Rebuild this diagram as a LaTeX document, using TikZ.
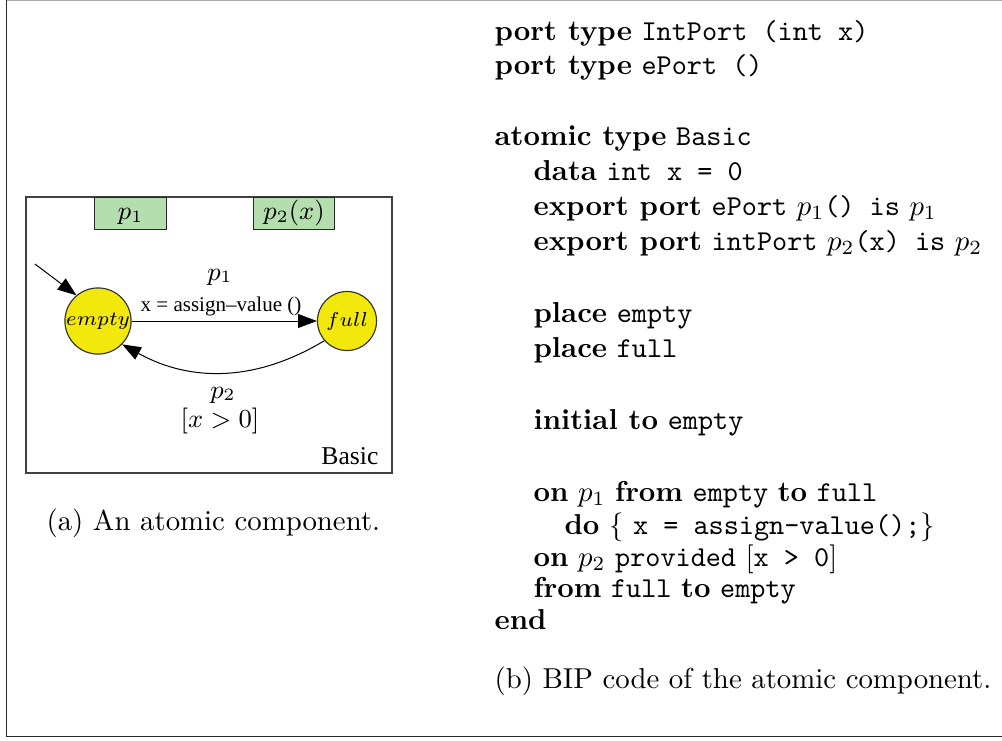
\documentclass[tikz,border=0pt]{standalone}
\usepackage{fontspec}
\newfontfamily\timesf{Liberation Serif}
\usetikzlibrary{arrows.meta}

\definecolor{portgreen}{RGB}{181,222,174}
\definecolor{placeyellow}{RGB}{242,232,12}
\definecolor{framegray}{RGB}{170,170,170}
\definecolor{framedark}{RGB}{40,40,40}

\tikzset{
  frameline/.style={line width=0.6pt, draw=framedark},
  compbox/.style={draw=black!75, line width=0.4pt},
  portbox/.style={draw=black!85, fill=portgreen, line width=0.4pt, font=\small,
                  inner sep=0pt, text height=6.8pt, text depth=2.4pt,
                  minimum height=32*0.3472pt, anchor=north west},
  place/.style={circle, draw=black!80, fill=placeyellow, line width=0.4pt,
                minimum size=20.5pt, inner sep=0pt, font=\scriptsize},
  trans/.style={draw=black, line width=0.35pt, -{Triangle[length=6.5pt,width=4.8pt]}},
  codeline/.style={anchor=base west, inner sep=0pt},
  lbl/.style={inner sep=0pt}
}

\begin{document}
\begin{tikzpicture}[x=0.3472pt, y=-0.3472pt]
\useasboundingbox (0,0) rectangle (1002,740);

% outer frame
\draw[line width=0.5pt, framegray] (6,0.7) -- (1002,0.7);
\draw[frameline] (6.5,0) -- (6.5,736.5) -- (1002,736.5);

% ---- (a) the atomic component ----
\draw[compbox] (26,197) rectangle (392,473);
\node[portbox, minimum width=72*0.3472pt] (pp1) at (94,197) {$p_1$};
\node[portbox, minimum width=81*0.3472pt] (pp2) at (253,197) {$p_2(x)$};

\node[place] (empty) at (98,321) {$empty$};
\node[place] (full) at (347,321) {$full$};

\coordinate (init) at (35,264);
\draw[trans] (init) -- (empty.130);
\draw[trans] (empty) -- (full);
\draw[trans] (full.-139) to[bend left=30] (empty.-44);

\node[lbl, font=\small] (l1) at (220,277) {$p_1$};
\node[lbl] (a1) at (221,306) {\timesf\fontsize{7.3}{9}\selectfont x = assign\textendash value ()};
\node[lbl, font=\small] (l2) at (223,395) {$p_2$};
\node[lbl, font=\small] (g2) at (220,421) {$[x>0]$};
\node[lbl, anchor=base east] (bname) at (379,464) {\timesf\fontsize{8.9}{10}\selectfont Basic};

\node[codeline] (capa) at (46,530) {(a) An atomic component.};

% ---- (b) the BIP code ----
\node[codeline] (c0) at (494,40) {\textbf{port type} \texttt{IntPort (int x)}};
\node[codeline] (c1) at (494,74) {\textbf{port type} \texttt{ePort ()}};
\node[codeline] (c3) at (494,145) {\textbf{atomic type} \texttt{Basic}};
\node[codeline] (c4) at (533,180) {\textbf{data} \texttt{int x = 0}};
\node[codeline] (c5) at (533,215) {\textbf{export port} \texttt{ePort} $p_1$\texttt{() is} $p_1$};
\node[codeline] (c6) at (533,250) {\textbf{export port} \texttt{intPort} $p_2$\texttt{(x) is} $p_2$};
\node[codeline] (c8) at (533,322) {\textbf{place} \texttt{empty}};
\node[codeline] (c9) at (533,357) {\textbf{place} \texttt{full}};
\node[codeline] (c11) at (533,429) {\textbf{initial to} \texttt{empty}};
\node[codeline] (c13) at (533,501) {\textbf{on} $p_1$ \textbf{from} \texttt{empty} \textbf{to} \texttt{full}};
\node[codeline] (c14) at (564,534) {\textbf{do} $\{$ \texttt{x = assign-value();}$\}$};
\node[codeline] (c15) at (533,566) {\textbf{on} $p_2$ \texttt{provided} $[$\texttt{x > 0}$]$};
\node[codeline] (c16) at (533,597) {\textbf{from} \texttt{full} \textbf{to} \texttt{empty}};
\node[codeline] (c17) at (494,629) {\textbf{end}};
\node[codeline] (capb) at (494,688) {(b) BIP code of the atomic component.};

\end{tikzpicture}
\end{document}
